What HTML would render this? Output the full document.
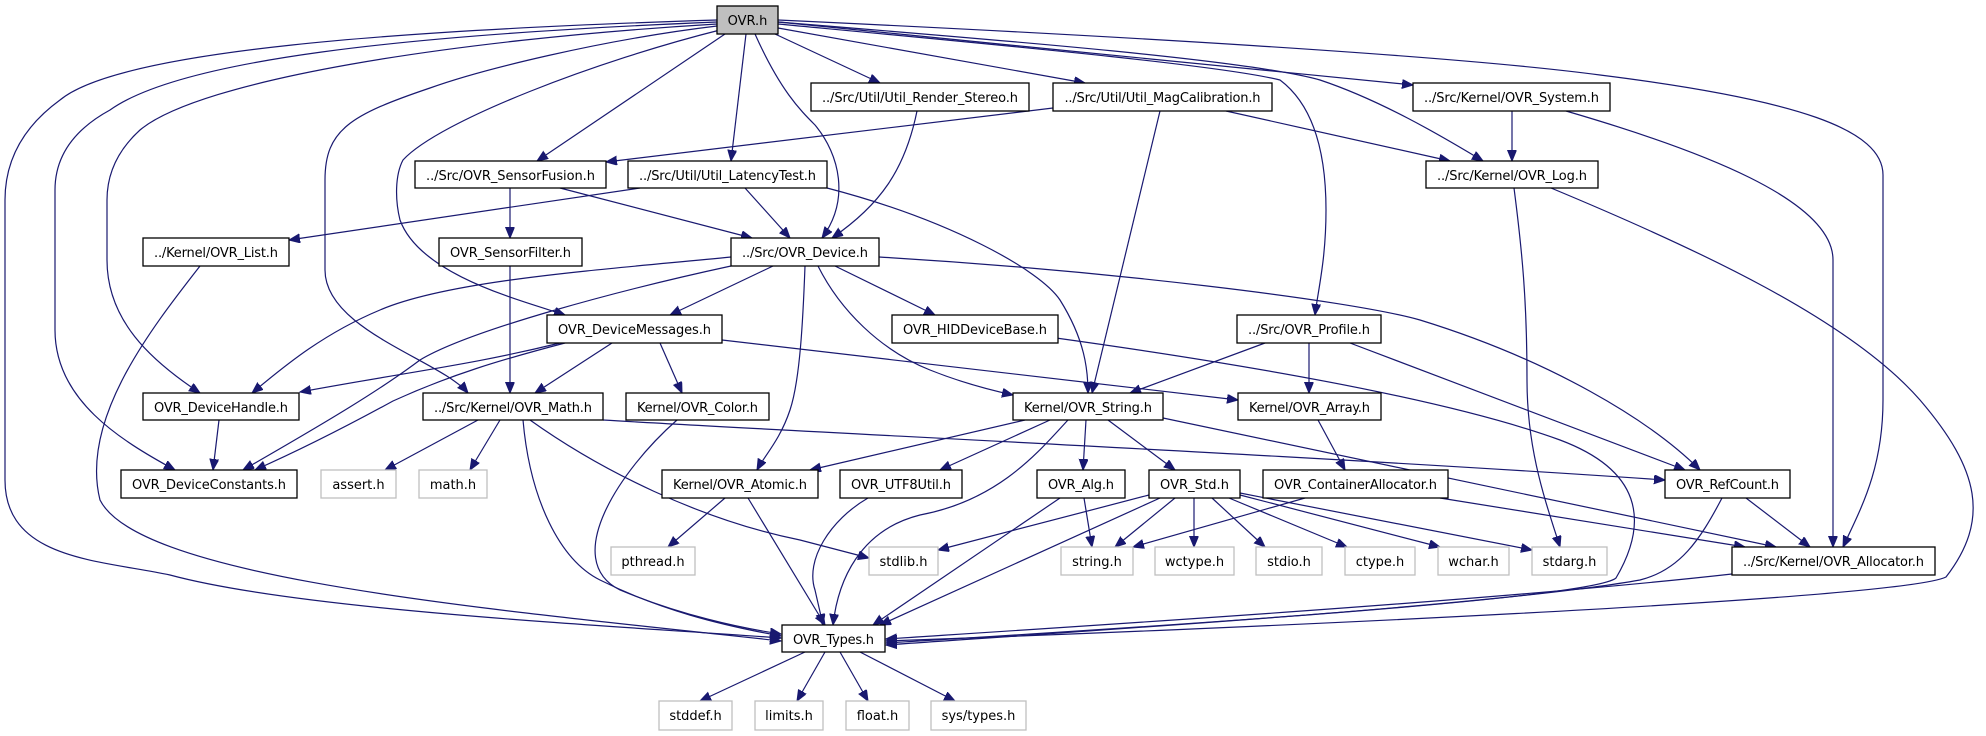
<!DOCTYPE html>
<html><head><meta charset="utf-8"><style>
html,body{margin:0;padding:0;background:#fff;}
svg{display:block}
text{font-family:"DejaVu Sans","Liberation Sans",sans-serif;font-size:13px;fill:#000}
.e{fill:none;stroke:#191970;stroke-width:1.2}
.n{fill:#fff;stroke:#000;stroke-width:1.3}
.g{fill:#fff;stroke:#bfbfbf;stroke-width:1.3}
</style></head><body>
<svg width="1986" height="736" viewBox="0 0 1986 736" xmlns="http://www.w3.org/2000/svg">
<defs><marker id="a" markerUnits="userSpaceOnUse" markerWidth="12" markerHeight="10" refX="11" refY="4.5" orient="auto"><path d="M0,0 L11,4.5 L0,9 z" fill="#191970" stroke="#191970"/></marker></defs>
<g class="e" marker-end="url(#a)">
<path d="M717,20 C400,30 120,50 60,100 Q5,140 5,200 L5,480 C5,560 100,560 170,575 C300,610 600,625 781,638"/>
<path d="M717,22 C400,35 180,60 110,110 Q55,140 55,190 L55,330 C55,400 120,440 175,470"/>
<path d="M717,24 C450,40 200,80 140,130 Q107,160 107,200 L107,260 C107,320 150,360 200,393"/>
<path d="M200,266 C150,330 80,420 100,500 C140,580 500,610 781,641"/>
<path d="M717,26 C600,40 480,70 430,88 C350,115 325,130 325,180 L325,270 C325,330 440,360 468,393"/>
<path d="M720,30 C600,60 440,120 403,160 C395,175 395,200 400,220 C420,275 520,300 565,315"/>
<path d="M725,34 L537,161"/>
<path d="M746,34 L731,161"/>
<path d="M755,34 C780,90 800,110 815,125 C840,155 850,200 822,238"/>
<path d="M775,34 L880,83"/>
<path d="M778,28 L1085,83"/>
<path d="M778,22 L1413,85"/>
<path d="M778,22 C1000,40 1250,60 1320,80 C1380,100 1440,135 1483,161"/>
<path d="M778,24 C1000,45 1220,65 1280,80 C1320,110 1326,170 1326,210 C1326,260 1318,290 1315,315"/>
<path d="M778,20 C1100,35 1450,55 1600,75 C1800,100 1883,130 1883,175 L1883,400 C1883,470 1860,510 1843,547"/>
<path d="M1551,188 C1700,250 1850,320 1920,400 C1980,470 1990,520 1946,577 C1900,600 1200,630 886,641"/>
<path d="M1566,111 C1700,150 1833,200 1833,260 L1833,547"/>
<path d="M1512,111 L1512,161"/>
<path d="M1226,111 L1450,161"/>
<path d="M1053,108 L606,162"/>
<path d="M1160,111 L1092,393"/>
<path d="M917,111 C905,170 880,205 832,238"/>
<path d="M510,188 L510,238"/>
<path d="M560,188 L752,238"/>
<path d="M640,188 L289,240"/>
<path d="M745,188 L790,238"/>
<path d="M827,188 C950,220 1040,270 1060,300 C1085,340 1088,370 1088,393"/>
<path d="M510,266 L510,393"/>
<path d="M773,266 L670,315"/>
<path d="M835,266 L935,315"/>
<path d="M731,257 C600,270 450,280 380,310 C320,335 280,370 252,393"/>
<path d="M731,266 C620,290 470,330 420,360 C380,390 330,420 243,470"/>
<path d="M565,343 C500,360 450,375 393,401 C340,430 300,450 255,470"/>
<path d="M560,343 C470,365 420,370 300,392"/>
<path d="M612,343 L535,393"/>
<path d="M660,343 L682,393"/>
<path d="M722,340 L1238,400"/>
<path d="M805,266 C803,320 800,380 790,410 C780,440 765,455 757,470"/>
<path d="M818,266 C840,310 880,350 930,370 C960,382 990,390 1013,395"/>
<path d="M879,257 C1100,270 1350,300 1420,320 C1550,360 1650,420 1700,470"/>
<path d="M1056,338 C1250,365 1450,400 1560,440 C1640,470 1650,520 1616,578 C1590,600 1100,630 886,643"/>
<path d="M1265,343 L1130,393"/>
<path d="M1309,343 L1309,393"/>
<path d="M1350,343 L1685,470"/>
<path d="M219,420 L213,470"/>
<path d="M478,420 L385,470"/>
<path d="M500,420 L470,470"/>
<path d="M523,420 C530,500 560,560 600,580 C660,610 720,625 781,636"/>
<path d="M530,420 C600,470 700,520 800,540 C830,548 850,553 869,558"/>
<path d="M603,420 C800,432 1300,455 1665,480"/>
<path d="M677,420 C620,470 560,560 620,590 C680,615 740,628 781,634"/>
<path d="M725,498 L668,547"/>
<path d="M748,498 L825,625"/>
<path d="M1025,420 L810,470"/>
<path d="M1050,420 L940,470"/>
<path d="M1068,420 C1040,450 1000,500 920,515 C860,530 838,580 833,625"/>
<path d="M1086,420 L1083,470"/>
<path d="M1108,420 L1175,470"/>
<path d="M1163,418 L1776,547"/>
<path d="M1318,420 L1345,470"/>
<path d="M868,498 C830,520 805,560 815,590 L823,625"/>
<path d="M1060,498 L873,625"/>
<path d="M1084,498 L1092,547"/>
<path d="M1149,495 L938,550"/>
<path d="M1160,498 L880,625"/>
<path d="M1175,498 L1115,547"/>
<path d="M1194,498 L1194,547"/>
<path d="M1212,498 L1265,547"/>
<path d="M1229,498 L1347,547"/>
<path d="M1240,495 L1440,547"/>
<path d="M1240,493 L1532,550"/>
<path d="M1305,498 L1133,547"/>
<path d="M1440,498 L1745,547"/>
<path d="M1746,498 L1810,547"/>
<path d="M1722,498 C1700,540 1680,570 1640,580 C1500,605 1100,630 886,645"/>
<path d="M1732,574 C1500,600 1100,625 886,639"/>
<path d="M1514,188 C1522,250 1527,300 1527,380 C1527,450 1545,500 1560,547"/>
<path d="M805,652 L700,701"/>
<path d="M825,652 L797,701"/>
<path d="M840,652 L868,701"/>
<path d="M860,652 L955,701"/>
</g>
<g>
<rect x="717" y="6" width="61" height="28" fill="#bfbfbf" stroke="#000" stroke-width="1.3"/><text x="747.5" y="25" text-anchor="middle">OVR.h</text>
<rect class="n" x="811" y="83" width="218" height="28"/><text x="920" y="102" text-anchor="middle" textLength="196">../Src/Util/Util_Render_Stereo.h</text>
<rect class="n" x="1053" y="83" width="219" height="28"/><text x="1162.5" y="102" text-anchor="middle" textLength="196">../Src/Util/Util_MagCalibration.h</text>
<rect class="n" x="1413" y="83" width="197" height="28"/><text x="1511.5" y="102" text-anchor="middle" textLength="175">../Src/Kernel/OVR_System.h</text>
<rect class="n" x="415" y="161" width="191" height="27"/><text x="510.5" y="180" text-anchor="middle" textLength="169">../Src/OVR_SensorFusion.h</text>
<rect class="n" x="628" y="161" width="199" height="27"/><text x="727.5" y="180" text-anchor="middle" textLength="177">../Src/Util/Util_LatencyTest.h</text>
<rect class="n" x="1426" y="161" width="172" height="27"/><text x="1512" y="180" text-anchor="middle" textLength="150">../Src/Kernel/OVR_Log.h</text>
<rect class="n" x="143" y="238" width="146" height="28"/><text x="216" y="257" text-anchor="middle" textLength="124">../Kernel/OVR_List.h</text>
<rect class="n" x="439" y="238" width="143" height="28"/><text x="510.5" y="257" text-anchor="middle" textLength="121">OVR_SensorFilter.h</text>
<rect class="n" x="731" y="238" width="148" height="28"/><text x="805" y="257" text-anchor="middle" textLength="126">../Src/OVR_Device.h</text>
<rect class="n" x="547" y="315" width="175" height="28"/><text x="634.5" y="334" text-anchor="middle" textLength="153">OVR_DeviceMessages.h</text>
<rect class="n" x="892" y="315" width="166" height="28"/><text x="975" y="334" text-anchor="middle" textLength="144">OVR_HIDDeviceBase.h</text>
<rect class="n" x="1237" y="315" width="144" height="28"/><text x="1309" y="334" text-anchor="middle" textLength="122">../Src/OVR_Profile.h</text>
<rect class="n" x="143" y="393" width="156" height="27"/><text x="221" y="412" text-anchor="middle" textLength="134">OVR_DeviceHandle.h</text>
<rect class="n" x="423" y="393" width="180" height="27"/><text x="513" y="412" text-anchor="middle" textLength="158">../Src/Kernel/OVR_Math.h</text>
<rect class="n" x="626" y="393" width="143" height="27"/><text x="697.5" y="412" text-anchor="middle" textLength="121">Kernel/OVR_Color.h</text>
<rect class="n" x="1013" y="393" width="150" height="27"/><text x="1088" y="412" text-anchor="middle" textLength="128">Kernel/OVR_String.h</text>
<rect class="n" x="1238" y="393" width="143" height="27"/><text x="1309.5" y="412" text-anchor="middle" textLength="121">Kernel/OVR_Array.h</text>
<rect class="n" x="121" y="470" width="176" height="28"/><text x="209" y="489" text-anchor="middle" textLength="154">OVR_DeviceConstants.h</text>
<rect class="g" x="321" y="470" width="75" height="28"/><text x="358.5" y="489" text-anchor="middle">assert.h</text>
<rect class="g" x="419" y="470" width="68" height="28"/><text x="453" y="489" text-anchor="middle">math.h</text>
<rect class="n" x="662" y="470" width="156" height="28"/><text x="740" y="489" text-anchor="middle" textLength="134">Kernel/OVR_Atomic.h</text>
<rect class="n" x="840" y="470" width="122" height="28"/><text x="901" y="489" text-anchor="middle" textLength="100">OVR_UTF8Util.h</text>
<rect class="n" x="1037" y="470" width="88" height="28"/><text x="1081" y="489" text-anchor="middle" textLength="66">OVR_Alg.h</text>
<rect class="n" x="1149" y="470" width="91" height="28"/><text x="1194.5" y="489" text-anchor="middle" textLength="69">OVR_Std.h</text>
<rect class="n" x="1263" y="470" width="185" height="28"/><text x="1355.5" y="489" text-anchor="middle" textLength="163">OVR_ContainerAllocator.h</text>
<rect class="n" x="1665" y="470" width="125" height="28"/><text x="1727.5" y="489" text-anchor="middle" textLength="103">OVR_RefCount.h</text>
<rect class="g" x="611" y="547" width="84" height="28"/><text x="653" y="566" text-anchor="middle">pthread.h</text>
<rect class="g" x="869" y="547" width="69" height="28"/><text x="903.5" y="566" text-anchor="middle">stdlib.h</text>
<rect class="g" x="1061" y="547" width="72" height="28"/><text x="1097" y="566" text-anchor="middle">string.h</text>
<rect class="g" x="1155" y="547" width="79" height="28"/><text x="1194.5" y="566" text-anchor="middle">wctype.h</text>
<rect class="g" x="1256" y="547" width="66" height="28"/><text x="1289" y="566" text-anchor="middle">stdio.h</text>
<rect class="g" x="1345" y="547" width="70" height="28"/><text x="1380" y="566" text-anchor="middle">ctype.h</text>
<rect class="g" x="1438" y="547" width="71" height="28"/><text x="1473.5" y="566" text-anchor="middle">wchar.h</text>
<rect class="g" x="1532" y="547" width="75" height="28"/><text x="1569.5" y="566" text-anchor="middle">stdarg.h</text>
<rect class="n" x="1732" y="547" width="203" height="28"/><text x="1833.5" y="566" text-anchor="middle" textLength="181">../Src/Kernel/OVR_Allocator.h</text>
<rect class="n" x="782" y="625" width="103" height="27"/><text x="833.5" y="644" text-anchor="middle" textLength="81">OVR_Types.h</text>
<rect class="g" x="659" y="701" width="73" height="29"/><text x="695.5" y="720" text-anchor="middle">stddef.h</text>
<rect class="g" x="755" y="701" width="68" height="29"/><text x="789" y="720" text-anchor="middle">limits.h</text>
<rect class="g" x="846" y="701" width="63" height="29"/><text x="877.5" y="720" text-anchor="middle">float.h</text>
<rect class="g" x="931" y="701" width="95" height="29"/><text x="978.5" y="720" text-anchor="middle">sys/types.h</text>
</g>
</svg>
</body></html>
